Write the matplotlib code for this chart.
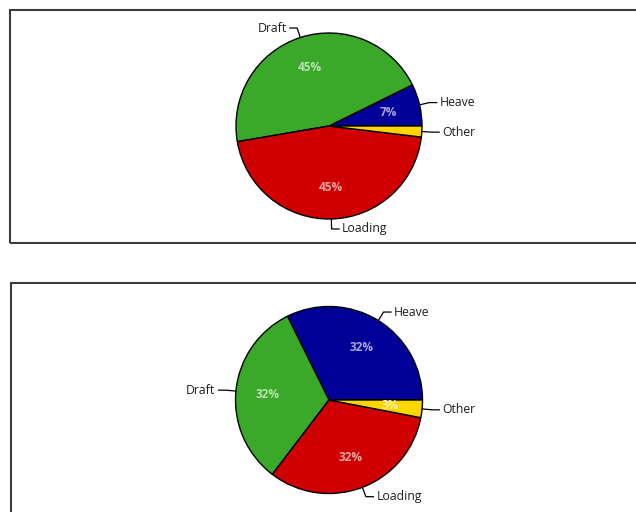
import numpy as np
import matplotlib
matplotlib.use("Agg")
import matplotlib.pyplot as plt
from matplotlib.patches import Rectangle
from matplotlib.colors import to_rgb

plt.rcParams['font.family'] = ['Open Sans', 'DejaVu Sans']

# Slice order runs counter-clockwise from the 3 o'clock position
categories = ["Heave", "Draft", "Loading", "Other"]
share_top = [7.3, 45.4, 45.4, 1.9]
share_bottom = [32, 32, 32, 3]

slice_colors = ["#000099", "#3aa829", "#d00000", "#ffd700"]
# which side each leader line turns to (+1 right, -1 left)
label_side = [1, -1, 1, 1]

W, H = 636, 512
fig = plt.figure(figsize=(W / 100, H / 100), dpi=100)
ax = fig.add_axes([0, 0, 1, 1])
ax.set_xlim(0, W)
ax.set_ylim(0, H)
ax.set_aspect("equal")
ax.axis("off")

# panel frames (they run past the right/bottom edge of the figure)
ax.add_patch(Rectangle((9.5, H - 242.5), 700, 233, fill=False,
                       ec="#3c3c3c", lw=1.5, clip_on=False))
ax.add_patch(Rectangle((10.5, H - 283 - 300), 700, 300, fill=False,
                       ec="#3c3c3c", lw=1.5, clip_on=False))


def tint(c, amount=0.65):
    r = np.array(to_rgb(c))
    return tuple(r + (1 - r) * amount)


def pct_label(p):
    # very thin slices carry no percentage text
    return f"{p:.0f}%" if p >= 2.5 else ""


def draw_pie(values, center, radius):
    wedges, _, autotexts = ax.pie(
        values, colors=slice_colors, startangle=0, counterclock=True,
        center=center, radius=radius, autopct=pct_label, pctdistance=0.66,
        wedgeprops=dict(edgecolor="black", linewidth=1.0),
        textprops=dict(fontsize=8.5, fontweight="bold"))
    for t, c in zip(autotexts, slice_colors):
        t.set_color(tint(c))
    cx, cy = center
    for w, name, side in zip(wedges, categories, label_side):
        mid = np.deg2rad((w.theta1 + w.theta2) / 2)
        ux, uy = np.cos(mid), np.sin(mid)
        p0 = (cx + radius * ux, cy + radius * uy)
        p1 = (cx + (radius + 10) * ux, cy + (radius + 10) * uy)
        p2 = (p1[0] + side * 8, p1[1])
        ax.plot([p0[0], p1[0], p2[0]], [p0[1], p1[1], p2[1]],
                color="black", lw=0.9, solid_capstyle="butt")
        ax.text(p2[0] + side * 2.5, p2[1], name, fontsize=8.8,
                ha="left" if side > 0 else "right", va="center",
                color="#1e1e1e")


draw_pie(share_top, (329, H - 126), 93)
draw_pie(share_bottom, (329, H - 400), 93.5)

ax.set_xlim(0, W)
ax.set_ylim(0, H)

fig.savefig("out.png", dpi=100, facecolor="white")
